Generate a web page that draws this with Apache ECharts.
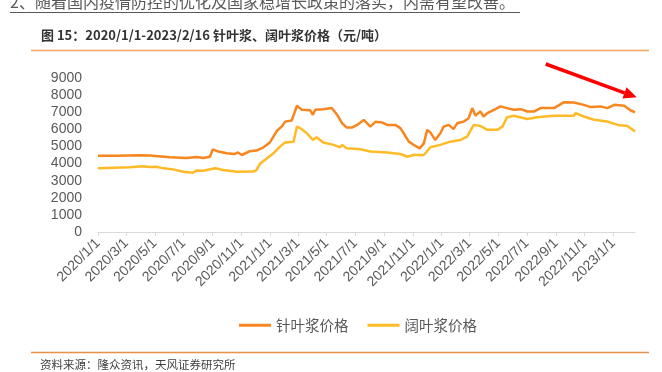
<!DOCTYPE html>
<html>
<head>
<meta charset="utf-8">
<script src="https://cdn.jsdelivr.net/npm/echarts@6/dist/echarts.min.js"></script>
<style>
html,body{margin:0;padding:0;background:#fff;}
#chart{width:662px;height:372px;}
</style>
</head>
<body>
<div id="chart"></div>
<script>
// ---- data ----
const startDate = '2020/1/1';
const endDate = '2023/2/16';
const tickLabels = ['2020/1/1','2020/3/1','2020/5/1','2020/7/1','2020/9/1','2020/11/1',
  '2021/1/1','2021/3/1','2021/5/1','2021/7/1','2021/9/1','2021/11/1',
  '2022/1/1','2022/3/1','2022/5/1','2022/7/1','2022/9/1','2022/11/1','2023/1/1'];
const yTicks = [0,1000,2000,3000,4000,5000,6000,7000,8000,9000];
const seriesNames = ['针叶浆价格','阔叶浆价格'];

const softwoodDates = ['2020/1/1','2020/2/9','2020/3/30','2020/4/20','2020/6/2','2020/7/7','2020/7/29','2020/8/12','2020/8/26','2020/9/1','2020/9/13','2020/10/1','2020/10/18','2020/10/25','2020/11/2','2020/11/19','2020/12/3','2020/12/18',
  '2021/1/1','2021/1/15','2021/1/26','2021/2/2','2021/2/16','2021/2/21','2021/2/27','2021/3/9','2021/3/27','2021/4/2','2021/4/7','2021/4/24','2021/5/12','2021/5/23','2021/6/3','2021/6/13','2021/6/24','2021/7/5','2021/7/19','2021/7/26','2021/8/2','2021/8/13','2021/8/27','2021/9/7','2021/9/24','2021/10/5','2021/10/12','2021/10/23','2021/11/6','2021/11/15','2021/11/24','2021/12/1','2021/12/8','2021/12/18','2021/12/29',
  '2022/1/5','2022/1/16','2022/1/26','2022/2/3','2022/2/17','2022/2/27','2022/3/7','2022/3/14','2022/3/24','2022/3/31','2022/4/8','2022/4/22','2022/5/6','2022/5/20','2022/6/3','2022/6/18','2022/7/2','2022/7/16','2022/7/30','2022/8/28','2022/9/18','2022/10/9','2022/10/30','2022/11/14','2022/12/5','2022/12/19',
  '2023/1/3','2023/1/24','2023/2/7','2023/2/16'];
const softwoodValues = [4460,4450,4480,4470,4365,4330,4380,4330,4400,4830,4700,4600,4560,4650,4500,4720,4760,4950,
  5250,5900,6170,6450,6520,6900,7380,7150,7120,6850,7150,7180,7250,6870,6360,6100,6100,6260,6550,6360,6160,6440,6400,6260,6260,6070,5770,5280,5030,4890,5180,5970,5810,5380,5770,
  6160,6260,6010,6360,6460,6650,7240,6800,7050,6750,6950,7140,7340,7240,7140,7180,7040,7040,7240,7240,7590,7570,7430,7300,7340,7240,
  7430,7380,7100,7000];

const hardwoodDates = ['2020/1/1','2020/3/9','2020/4/6','2020/4/20','2020/5/4','2020/5/19','2020/6/9','2020/6/30','2020/7/21','2020/7/29','2020/8/12','2020/9/6','2020/9/23','2020/10/22','2020/11/26','2020/12/3','2020/12/11','2020/12/25',
  '2021/1/8','2021/1/22','2021/2/2','2021/2/20','2021/2/23','2021/2/27','2021/3/6','2021/3/20','2021/4/2','2021/4/10','2021/4/24','2021/5/16','2021/5/30','2021/6/3','2021/6/13','2021/7/12','2021/8/2','2021/9/7','2021/10/5','2021/10/20','2021/11/2','2021/11/24','2021/12/8','2021/12/29',
  '2022/1/19','2022/2/10','2022/2/24','2022/3/10','2022/3/24','2022/4/8','2022/4/29','2022/5/10','2022/5/20','2022/6/3','2022/7/2','2022/7/23','2022/8/28','2022/10/9','2022/10/13','2022/10/30','2022/11/21','2022/12/19',
  '2023/1/10','2023/1/31','2023/2/16'];
const hardwoodValues = [3720,3780,3840,3800,3810,3720,3660,3520,3460,3600,3580,3720,3620,3520,3530,3620,4010,4300,
  4600,4990,5230,5280,5670,6160,6070,5770,5380,5540,5230,5090,4950,5090,4890,4840,4700,4640,4560,4400,4500,4500,4950,5090,
  5280,5380,5570,6260,6200,5970,5970,6160,6710,6790,6600,6700,6790,6790,6950,6750,6560,6460,
  6260,6200,5870];

// ---- build categories (every calendar day) ----
function fmt(d){return d.getFullYear()+'/'+(d.getMonth()+1)+'/'+d.getDate();}
function parse(s){const p=s.split('/').map(Number);return new Date(p[0],p[1]-1,p[2]);}
const categories=[];
for(let d=parse(startDate); d<=parse(endDate); d=new Date(d.getFullYear(),d.getMonth(),d.getDate()+1)){categories.push(fmt(d));}
const idx={}; categories.forEach((c,i)=>idx[c]=i);
const tickSet=new Set(tickLabels);
function pairs(ds,vs){return ds.map((d,i)=>[idx[d],vs[i]]);}

const colors=['#F7861E','#FFBB27'];
const chart=echarts.init(document.getElementById('chart'),null,{renderer:'canvas'});
const cjk='"Noto Sans CJK SC", "Noto Sans", sans-serif';
const latin='"Liberation Sans", Arial, sans-serif';

// arrow geometry
const ax0=[545.7,64], tip=[636.7,97.3];
const dx=tip[0]-ax0[0], dy=tip[1]-ax0[1], L=Math.hypot(dx,dy);
const ux=dx/L, uy=dy/L, nx=-uy, ny=ux, hl=13, hw=6;
const bc=[tip[0]-ux*hl, tip[1]-uy*hl];

chart.setOption({
  animation:false,
  backgroundColor:'#fff',
  grid:{left:98,right:27,top:78,bottom:140,outerBoundsMode:'none',containLabel:false},
  legend:{
    data:seriesNames, left:234, top:313, itemWidth:32, itemHeight:3, itemGap:19, icon:'rect',
    textStyle:{fontFamily:cjk,fontSize:14.5,color:'#595959'}
  },
  xAxis:{
    type:'category', data:categories, boundaryGap:false,
    axisLine:{lineStyle:{color:'#d9d9d9',width:1}},
    axisTick:{show:true,length:4,interval:(i,v)=>tickSet.has(v),lineStyle:{color:'#d9d9d9'}},
    axisLabel:{interval:(i,v)=>tickSet.has(v),rotate:45,margin:9,fontSize:14,fontFamily:latin,color:'#595959'},
    splitLine:{show:false}
  },
  yAxis:{
    type:'value', min:yTicks[0], max:yTicks[yTicks.length-1], interval:1000,
    axisLine:{show:false}, axisTick:{show:false}, splitLine:{show:false},
    axisLabel:{fontSize:14,fontFamily:latin,color:'#595959',margin:16,formatter:v=>String(v)}
  },
  series:[
    {name:seriesNames[0],type:'line',data:pairs(softwoodDates,softwoodValues),symbol:'none',showSymbol:false,
     lineStyle:{color:colors[0],width:2.5},itemStyle:{color:colors[0]},z:3},
    {name:seriesNames[1],type:'line',data:pairs(hardwoodDates,hardwoodValues),symbol:'none',showSymbol:false,
     lineStyle:{color:colors[1],width:2.5},itemStyle:{color:colors[1]},z:2}
  ],
  graphic:[
    {type:'text',left:10,top:-6,style:{text:'2、随着国内疫情防控的优化及国家稳增长政策的落实，内需有望改善。',font:'16px '+cjk,fill:'#595959'}},
    {type:'line',shape:{x1:10,y1:12.5,x2:520,y2:12.5},style:{stroke:'#595959',lineWidth:1}},
    {type:'text',left:41,top:29,style:{text:'图 15：2020/1/1-2023/2/16 针叶浆、阔叶浆价格（元/吨）',font:'bold 13px '+cjk,fill:'#333333'}},
    {type:'line',shape:{x1:31,y1:50.5,x2:649,y2:50.5},style:{stroke:'#F5A55C',lineWidth:1.5}},
    {type:'line',shape:{x1:31,y1:352.5,x2:649,y2:352.5},style:{stroke:'#EA9048',lineWidth:1.5}},
    {type:'text',left:40,top:359,style:{text:'资料来源：隆众资讯，天风证券研究所',font:'11.5px '+cjk,fill:'#404040'}},
    {type:'line',shape:{x1:ax0[0],y1:ax0[1],x2:bc[0],y2:bc[1]},style:{stroke:'#FF0000',lineWidth:3.5}},
    {type:'polygon',shape:{points:[[tip[0],tip[1]],[bc[0]+nx*hw,bc[1]+ny*hw],[bc[0]-nx*hw,bc[1]-ny*hw]]},style:{fill:'#FF0000'}}
  ]
});
</script>
</body>
</html>
